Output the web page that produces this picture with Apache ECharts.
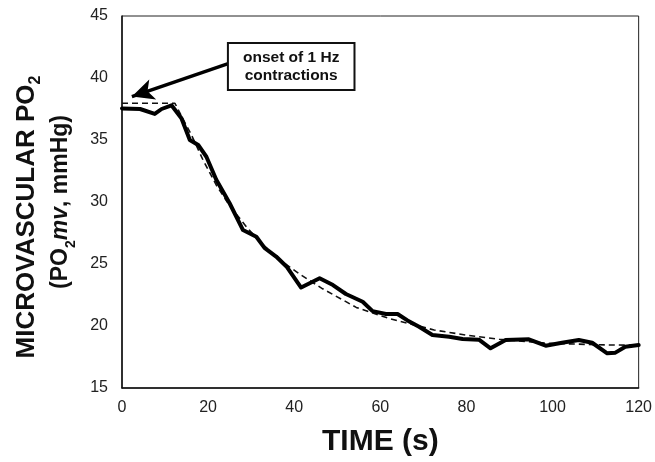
<!DOCTYPE html>
<html><head><meta charset="utf-8">
<script src="https://cdn.jsdelivr.net/npm/echarts@6/dist/echarts.min.js"></script>
<style>html,body{margin:0;padding:0;background:#fff}#c{width:655px;height:462px}</style>
</head><body><div id="c"></div>
<script>
const xTicks = [0, 20, 40, 60, 80, 100, 120];
const yTicks = [15, 20, 25, 30, 35, 40, 45];
const measuredTime = [0, 4.2, 7.6, 9.2, 11.5, 13.8, 15.75, 17.7, 19.6, 21.9, 25.0, 28.1, 31.2, 33.1, 35.8, 38.2, 41.6, 45.9, 49.0, 52.0, 55.9, 58.2, 61.3, 64.0, 66.3, 69.0, 72.1, 76.0, 79.1, 82.9, 85.6, 89.1, 94.5, 98.4, 102.2, 106.1, 109.2, 112.7, 114.6, 116.9, 120];
const measuredPO2 = [37.55, 37.5, 37.1, 37.5, 37.8, 36.75, 35.0, 34.6, 33.65, 31.8, 29.9, 27.74, 27.2, 26.3, 25.6, 24.8, 23.1, 23.85, 23.3, 22.58, 21.96, 21.2, 20.97, 20.97, 20.45, 19.94, 19.27, 19.14, 18.95, 18.9, 18.2, 18.87, 18.93, 18.41, 18.65, 18.87, 18.65, 17.8, 17.85, 18.33, 18.47];
const fitTime = [0, 12.3, 14, 16, 18.8, 22, 25, 28.9, 32, 36, 41.2, 46.6, 51.3, 54.4, 62.1, 72.5, 79.8, 87.6, 99.1, 113, 120];
const fitPO2 = [37.96, 37.96, 36.8, 35.5, 33.4, 31.3, 29.7, 28.0, 26.8, 25.5, 24.2, 23.0, 22.1, 21.5, 20.6, 19.68, 19.27, 18.93, 18.6, 18.47, 18.45];
const annotationLines = ['onset of 1 Hz', 'contractions'];
const arrowFrom = [25, 41.2];
const arrowTo = [2.3, 38.5];
const boxCorners = [[24.6, 42.82], [54.0, 39.03]];

const chart = echarts.init(document.getElementById('c'));
const FONT = '"Liberation Sans", Arial, sans-serif';
const pair = (xs, ys) => xs.map((x, i) => [x, ys[i]]);

chart.setOption({
  animation: false,
  grid: { left: 122, right: 15, top: 16, bottom: 74, show: true, borderColor: '#222', borderWidth: 1 },
  xAxis: {
    type: 'value', min: xTicks[0], max: xTicks[xTicks.length - 1], interval: 20,
    axisLine: { lineStyle: { color: '#111', width: 1.5 } },
    axisTick: { show: false }, splitLine: { show: false },
    axisLabel: { fontFamily: FONT, fontSize: 16, color: '#222', margin: 12 },
    name: 'TIME (s)', nameLocation: 'middle', nameGap: 39,
    nameTextStyle: { fontFamily: FONT, fontSize: 30, fontWeight: 'bold', color: '#111' }
  },
  yAxis: {
    type: 'value', min: yTicks[0], max: yTicks[yTicks.length - 1], interval: 5,
    axisLine: { lineStyle: { color: '#111', width: 1.5 } },
    axisTick: { show: false }, splitLine: { show: false },
    axisLabel: { fontFamily: FONT, fontSize: 16, color: '#222', margin: 14 },
    name: '{b|MICROVASCULAR PO}{s|2}{gap|}\n{c|(PO}{t|2}{i|mv}{c|, mmHg)}',
    nameLocation: 'middle', nameRotate: 90, nameGap: 44,
    nameTextStyle: {
      fontFamily: FONT, color: '#111',
      rich: {
        b: { fontFamily: FONT, fontSize: 26, fontWeight: 'bold', color: '#111', lineHeight: 34 },
        s: { fontFamily: FONT, fontSize: 16, fontWeight: 'bold', color: '#111', lineHeight: 16, verticalAlign: 'bottom' },
        gap: { width: 30, lineHeight: 34 },
        c: { fontFamily: FONT, fontSize: 23, fontWeight: 'bold', color: '#111', lineHeight: 34 },
        i: { fontFamily: FONT, fontSize: 23, fontWeight: 'bold', fontStyle: 'italic', color: '#111', lineHeight: 34 },
        t: { fontFamily: FONT, fontSize: 14, fontWeight: 'bold', color: '#111', lineHeight: 16, verticalAlign: 'bottom' }
      }
    }
  },
  series: [
    {
      type: 'line', data: pair(fitTime, fitPO2), symbol: 'none', z: 2,
      lineStyle: { color: '#111', width: 1.6, type: [6, 4] }
    },
    {
      type: 'line', data: pair(measuredTime, measuredPO2), symbol: 'none', z: 3,
      lineStyle: { color: '#000', width: 4, join: 'round', cap: 'round' },
      markLine: {
        silent: true, symbol: ['none', 'arrow'], symbolSize: [16, 22],
        label: { show: false },
        lineStyle: { color: '#000', width: 3.5, type: 'solid' },
        data: [[{ coord: arrowFrom }, { coord: arrowTo }]]
      }
    }
  ]
});

const p1 = chart.convertToPixel({ gridIndex: 0 }, boxCorners[0]);
const p2 = chart.convertToPixel({ gridIndex: 0 }, boxCorners[1]);
chart.setOption({
  graphic: [
    { type: 'rect', shape: { x: p1[0], y: p1[1], width: p2[0] - p1[0], height: p2[1] - p1[1] },
      style: { fill: '#fff', stroke: '#111', lineWidth: 2 }, z: 10 },
    { type: 'text', x: (p1[0] + p2[0]) / 2, y: (p1[1] + p2[1]) / 2, z: 11,
      style: { text: annotationLines.join('\n'), fontFamily: FONT, fontSize: 15.5, fontWeight: 'bold',
        fill: '#111', align: 'center', verticalAlign: 'middle', lineHeight: 18 } }
  ]
});
</script></body></html>
